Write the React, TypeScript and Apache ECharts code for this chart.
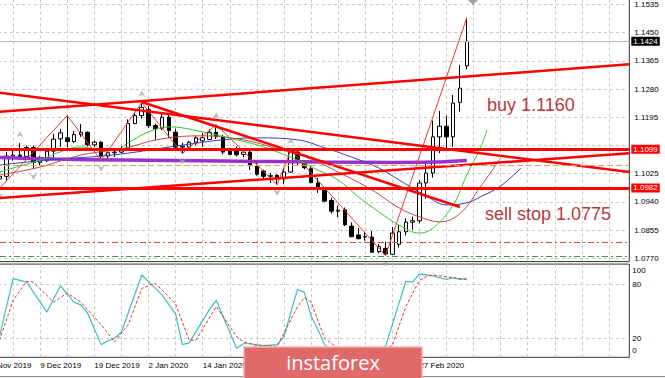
import React, { useEffect, useRef } from 'react';
import * as echarts from 'echarts';

// ---------- data ----------
const dates = [
  '27 Nov 2019', '28 Nov 2019', '29 Nov 2019', '2 Dec 2019', '3 Dec 2019', '4 Dec 2019', '5 Dec 2019', '6 Dec 2019',
  '9 Dec 2019', '10 Dec 2019', '11 Dec 2019', '12 Dec 2019', '13 Dec 2019', '16 Dec 2019', '17 Dec 2019', '18 Dec 2019',
  '19 Dec 2019', '20 Dec 2019', '23 Dec 2019', '24 Dec 2019', '26 Dec 2019', '27 Dec 2019', '30 Dec 2019', '31 Dec 2019',
  '2 Jan 2020', '3 Jan 2020', '6 Jan 2020', '7 Jan 2020', '8 Jan 2020', '9 Jan 2020', '10 Jan 2020', '13 Jan 2020',
  '14 Jan 2020', '15 Jan 2020', '16 Jan 2020', '17 Jan 2020', '20 Jan 2020', '21 Jan 2020', '22 Jan 2020', '23 Jan 2020',
  '24 Jan 2020', '27 Jan 2020', '28 Jan 2020', '29 Jan 2020', '30 Jan 2020', '31 Jan 2020', '3 Feb 2020', '4 Feb 2020',
  '5 Feb 2020', '6 Feb 2020', '7 Feb 2020', '10 Feb 2020', '11 Feb 2020', '12 Feb 2020', '13 Feb 2020', '14 Feb 2020',
  '17 Feb 2020', '18 Feb 2020', '19 Feb 2020', '20 Feb 2020', '21 Feb 2020', '24 Feb 2020', '25 Feb 2020', '26 Feb 2020',
  '27 Feb 2020', '28 Feb 2020', '2 Mar 2020', '3 Mar 2020', '4 Mar 2020', '5 Mar 2020', '6 Mar 2020', '9 Mar 2020',
];
const futureSlots = 24;
// date labels that are visible (the others sit under the watermark)
const dateLabelIndices = [0, 8, 16, 24, 32, 64];

const opens = [
  1.1019, 1.1008, 1.1009, 1.1017, 1.1078, 1.1081, 1.1077, 1.1104,
  1.1059, 1.1064, 1.1093, 1.1130, 1.1133, 1.1122, 1.1143, 1.1150,
  1.1112, 1.1120, 1.1078, 1.1088, 1.1090, 1.1100, 1.1176, 1.1200,
  1.1218, 1.1170, 1.1162, 1.1195, 1.1150, 1.1105, 1.1105, 1.1118,
  1.1124, 1.1128, 1.1150, 1.1136, 1.1097, 1.1093, 1.1083, 1.1090,
  1.1048, 1.1033, 1.1017, 1.1020, 1.1009, 1.1030, 1.1090, 1.1057,
  1.1040, 1.0997, 1.0979, 1.0944, 1.0912, 1.0916, 1.0867, 1.0840,
  1.0834, 1.0834, 1.0790, 1.0800, 1.0782, 1.0812, 1.0850, 1.0879,
  1.0883, 1.0997, 1.1027, 1.1136, 1.1168, 1.1136, 1.1240, 1.1350,
];
const highs = [
  1.1024, 1.1018, 1.1040, 1.1090, 1.1094, 1.1117, 1.1110, 1.1110,
  1.1079, 1.1094, 1.1145, 1.1160, 1.1200, 1.1154, 1.1175, 1.1152,
  1.1124, 1.1123, 1.1090, 1.1095, 1.1108, 1.1189, 1.1209, 1.1239,
  1.1229, 1.1176, 1.1206, 1.1203, 1.1161, 1.1118, 1.1124, 1.1140,
  1.1147, 1.1159, 1.1173, 1.1142, 1.1103, 1.1107, 1.1099, 1.1098,
  1.1064, 1.1037, 1.1027, 1.1023, 1.1039, 1.1096, 1.1096, 1.1065,
  1.1051, 1.1012, 1.0984, 1.0952, 1.0929, 1.0923, 1.0878, 1.0862,
  1.0849, 1.0852, 1.0813, 1.0820, 1.0864, 1.0870, 1.0891, 1.0896,
  1.1006, 1.1054, 1.1185, 1.1214, 1.1200, 1.1262, 1.1353, 1.1495,
];
const lows = [
  1.0993, 1.0999, 1.0981, 1.1004, 1.1064, 1.1070, 1.1075, 1.1040,
  1.1050, 1.1060, 1.1068, 1.1106, 1.1104, 1.1118, 1.1136, 1.1107,
  1.1105, 1.1065, 1.1066, 1.1076, 1.1086, 1.1098, 1.1175, 1.1191,
  1.1163, 1.1127, 1.1156, 1.1133, 1.1094, 1.1086, 1.1095, 1.1110,
  1.1106, 1.1127, 1.1130, 1.1083, 1.1082, 1.1077, 1.1074, 1.1036,
  1.1019, 1.1007, 1.0997, 1.0992, 1.0993, 1.1028, 1.1048, 1.1038,
  1.0996, 1.0967, 1.0942, 1.0905, 1.0894, 1.0867, 1.0834, 1.0827,
  1.0823, 1.0788, 1.0785, 1.0778, 1.0779, 1.0802, 1.0839, 1.0856,
  1.0876, 1.0950, 1.1013, 1.1087, 1.1100, 1.1105, 1.1212, 1.1340,
];
const closes = [
  1.1008, 1.1009, 1.1017, 1.1078, 1.1081, 1.1077, 1.1104, 1.1059,
  1.1064, 1.1093, 1.1129, 1.1148, 1.1122, 1.1143, 1.1150, 1.1112,
  1.1120, 1.1078, 1.1088, 1.1090, 1.1100, 1.1176, 1.1200, 1.1225,
  1.1170, 1.1160, 1.1195, 1.1155, 1.1105, 1.1108, 1.1120, 1.1133,
  1.1133, 1.1150, 1.1136, 1.1090, 1.1083, 1.1082, 1.1090, 1.1052,
  1.1023, 1.1017, 1.1019, 1.1010, 1.1030, 1.1090, 1.1060, 1.1043,
  1.0998, 1.0982, 1.0942, 1.0912, 1.0915, 1.0871, 1.0835, 1.0829,
  1.0835, 1.0788, 1.0806, 1.0783, 1.0846, 1.0850, 1.0879, 1.0883,
  1.0997, 1.1027, 1.1136, 1.1168, 1.1136, 1.1238, 1.1283, 1.1424,
];

// price scale
const priceTicks = [1.0770, 1.0855, 1.0940, 1.1025, 1.1110, 1.1195, 1.1280, 1.1365, 1.1450, 1.1535];
const hiddenPriceLabels = [1.1110];
const priceMin = 1.0760;
const priceMax = 1.1550;
const priceStep = 0.0005;

// horizontal levels
const bidPrice = 1.1424;
const resistanceLevel = 1.1099;
const supportLevel = 1.0982;
const orangeLevel = 1.1050;
const redDashLevel = 1.0818;
const sellStopLevel = 1.0775;

// trend lines [barIndex, price]
const upperRisingLine = [[0, 1.12088], [95, 1.13547]];
const upperFallingLine = [[0, 1.12745], [95, 1.10302]];
const lowerRisingLine = [[0, 1.09488], [95, 1.10865]];
const topFallingSegment = [[23, 1.12412], [70, 1.09247]];

// zigzag vertices
const zigzag = [[2, 1.0981], [12, 1.1200], [17, 1.1065], [23, 1.1239], [29, 1.1086], [34, 1.1173],
  [43, 1.0992], [45, 1.1096], [59, 1.0778], [71, 1.1495]];

// fractals
const fractalUp = [[5, 1.1117], [12, 1.1200], [23, 1.1239], [34, 1.1173], [45, 1.1096]];
const fractalDown = [[2, 1.0981], [7, 1.1040], [17, 1.1065], [29, 1.1086], [43, 1.0992], [59, 1.0778]];

// alligator and long MA
const jaw = [[2, 1.1051], [9, 1.1066], [17, 1.1078], [21, 1.1087], [28, 1.1108], [35, 1.1127], [40, 1.1133],
  [46, 1.1127], [50, 1.1103], [54, 1.1075], [58, 1.1042], [61, 1.1006], [65, 1.0958], [68, 1.0931],
  [71, 1.0937], [73, 1.0955], [76, 1.0988], [79, 1.1042]];
const teeth = [[2, 1.1021], [8, 1.1045], [14, 1.1081], [20, 1.1100], [26, 1.1130], [32, 1.1139], [38, 1.1127],
  [43, 1.1100], [48, 1.1069], [52, 1.1030], [57, 1.0976], [61, 1.0922], [64, 1.0895], [67, 1.0880],
  [70, 1.0905], [73, 1.0985], [76, 1.1072]];
const lips = [[2, 1.1030], [5, 1.1048], [8, 1.1066], [11, 1.1091], [14, 1.1106], [17, 1.1097], [19, 1.1097],
  [21, 1.1118], [24, 1.1151], [27, 1.1166], [29, 1.1163], [32, 1.1151], [34, 1.1142], [37, 1.1127],
  [40, 1.1112], [43, 1.1091], [46, 1.1066], [49, 1.1036], [52, 1.1006], [55, 1.0955], [58, 1.0910],
  [61, 1.0870], [64, 1.0846], [66, 1.0861], [69, 1.0931], [71, 1.1021], [73, 1.1102], [74, 1.1157]];
const longMA = [[2, 1.1074], [10, 1.1069], [20, 1.1066], [35, 1.1063], [50, 1.1060], [60, 1.1059], [66, 1.1060], [71, 1.1065]];

// stochastic
const stochMain = [[2, 22], [4, 86], [6, 82], [9, 49], [11, 78], [13, 60], [14, 57], [15, 48], [17, 13], [18, 17],
  [19, 20], [20, 27], [23, 90], [26, 68], [28, 47], [29, 13], [30, 15], [33, 52], [34, 62], [37, 9], [38, 14],
  [39, 14], [41, 12], [43, 13], [44, 22], [46, 74], [47, 71], [48, 45], [49, 30], [50, 13], [51, 6], [52, 8],
  [53, 4], [54, 3], [55, 5], [56, 7], [57, 4], [58, 8], [59, 11], [62, 83], [63, 82], [64, 91], [65, 90],
  [66, 89], [68, 85], [69, 87], [70, 85], [71, 86]];
const stochSignal = [[2, 18], [4, 62], [6, 83], [7, 82], [10, 60], [11, 65], [12, 70], [14, 60], [17, 35],
  [19, 16], [21, 35], [23, 75], [25, 81], [28, 58], [30, 18], [31, 18], [34, 55], [37, 22], [38, 16], [40, 12],
  [43, 11], [46, 55], [47, 65], [48, 60], [50, 20], [52, 9], [55, 5], [58, 6], [60, 12], [62, 55], [64, 84],
  [65, 88], [66, 90], [68, 88], [69, 87], [71, 85]];
const oscLabels = [0, 20, 80, 100];
const oscLevels = [20, 80];
const oscMin = -1;
const oscMax = 102;

// ---------- styles ----------
const FONT = '"Liberation Sans", Arial, sans-serif';
const labelFont = { fontFamily: FONT, fontSize: 8, color: '#000' };
const gridLine = { color: '#c8c8c8', type: [3, 3] as number[], width: 1 };

function buildOption() {
  const categories = dates.concat(Array.from({ length: futureSlots }, () => ''));
  const candleData = opens.map((o, i) => [o, closes[i], lows[i], highs[i]]);

  const levelLabel = (bg: string, value: number) => ({
    show: true,
    position: 'end',
    distance: 2,
    formatter: value.toFixed(4),
    backgroundColor: bg,
    color: '#fff',
    padding: [1, 2, 0, 2],
    fontFamily: FONT,
    fontSize: 8,
  });

  const priceLine = (data: number[][], color: string, width: number, smooth: number | boolean, z: number) => ({
    type: 'line',
    xAxisIndex: 0,
    yAxisIndex: 0,
    data,
    symbol: 'none',
    smooth,
    silent: true,
    z,
    lineStyle: { color, width },
  });

  const fractalSymbol = 'path://M0,10 L5,0 L10,10 L5,7 Z';

  return {
    animation: false,
    backgroundColor: '#ffffff',
    grid: [
      { left: -14, width: 643.3, top: -0.5, height: 262.1, show: true, borderColor: '#333', borderWidth: 1, containLabel: false, outerBoundsMode: 'none' },
      { left: -14, width: 643.3, top: 264.1, height: 93.2, show: true, borderColor: '#333', borderWidth: 1, containLabel: false, outerBoundsMode: 'none' },
    ],
    xAxis: [
      {
        type: 'category', gridIndex: 0, data: categories, boundaryGap: false,
        axisLine: { show: false }, axisTick: { show: false }, axisLabel: { show: false },
        splitLine: { show: true, interval: 3, lineStyle: gridLine },
      },
      {
        type: 'category', gridIndex: 1, data: categories, boundaryGap: false,
        axisLine: { show: false }, axisTick: { show: false },
        axisLabel: {
          show: true, align: 'left', margin: 4, ...labelFont,
          interval: (i: number) => dateLabelIndices.indexOf(i) >= 0,
        },
        splitLine: { show: true, interval: 3, lineStyle: gridLine },
      },
    ],
    yAxis: [
      {
        type: 'value', gridIndex: 0, position: 'right', min: priceMin, max: priceMax, interval: priceStep,
        axisLine: { show: false }, axisTick: { show: false }, splitLine: { show: false },
        axisLabel: {
          margin: 5, ...labelFont, showMinLabel: true, showMaxLabel: true,
          formatter: (v: number) => {
            const t = priceTicks.find((p) => Math.abs(p - v) < 1e-7);
            if (t === undefined || hiddenPriceLabels.indexOf(t) >= 0) return '';
            return t.toFixed(4);
          },
        },
      },
      {
        type: 'value', gridIndex: 1, position: 'right', min: oscMin, max: oscMax, interval: 1,
        axisLine: { show: false }, axisTick: { show: false }, splitLine: { show: false },
        axisLabel: {
          margin: 3, ...labelFont, showMinLabel: true, showMaxLabel: true,
          formatter: (v: number) => {
            const r = Math.round(v);
            if (Math.abs(v - r) > 1e-6 || oscLabels.indexOf(r) < 0) return '';
            if (r === 100) return '{top|100}';
            if (r === 0) return '{bottom|0}';
            return String(r);
          },
          rich: {
            top: { padding: [9, 0, 0, 0], fontFamily: FONT, fontSize: 8, color: '#000' },
            bottom: { padding: [0, 0, 11, 0], fontFamily: FONT, fontSize: 8, color: '#000' },
          },
        },
      },
    ],
    series: [
      {
        type: 'candlestick', xAxisIndex: 0, yAxisIndex: 0, data: candleData, barWidth: 4, z: 2, silent: true,
        itemStyle: { color: '#ffffff', color0: '#000000', borderColor: '#000000', borderColor0: '#000000', borderWidth: 1 },
        markLine: {
          z: 1, silent: true, precision: 5, symbol: ['none', 'none'], label: { show: false },
          lineStyle: gridLine,
          data: priceTicks.map((p) => ({ yAxis: p })),
        },
      },
      priceLine(longMA, '#9932cc', 3.5, 0.4, 3),
      priceLine(jaw, '#3a3ac8', 1, 0.4, 3),
      priceLine(teeth, '#c04848', 1, 0.4, 3),
      priceLine(lips, '#2ec82e', 1, 0.4, 3),
      {
        ...priceLine(zigzag, '#e03a3a', 1, false, 4),
        markLine: {
          z: 6, silent: true, precision: 5, symbol: ['none', 'none'],
          data: [
            { yAxis: orangeLevel, lineStyle: { color: '#e6a064', width: 1, type: [6, 3] }, label: { show: false } },
            { yAxis: redDashLevel, lineStyle: { color: '#e04040', width: 1, type: [6, 3, 2, 3] }, label: { show: false } },
            { yAxis: sellStopLevel, lineStyle: { color: '#3c9a3c', width: 1, type: [6, 3, 2, 3] }, label: { show: false } },
            { yAxis: bidPrice, lineStyle: { color: '#b8b8b8', width: 1, type: 'solid' }, label: levelLabel('#000000', bidPrice) },
            { yAxis: resistanceLevel, lineStyle: { color: '#ff0000', width: 3, type: 'solid' }, label: levelLabel('#ff0000', resistanceLevel) },
            { yAxis: supportLevel, lineStyle: { color: '#ff0000', width: 3, type: 'solid' }, label: levelLabel('#ff0000', supportLevel) },
          ],
        },
      },
      priceLine(upperRisingLine, '#ff0000', 2.5, false, 5),
      priceLine(upperFallingLine, '#ff0000', 2.5, false, 5),
      priceLine(lowerRisingLine, '#ff0000', 2.5, false, 5),
      priceLine(topFallingSegment, '#ff0000', 2.5, false, 5),
      {
        type: 'scatter', xAxisIndex: 0, yAxisIndex: 0, data: fractalUp, symbol: fractalSymbol,
        symbolSize: [7, 6], symbolOffset: [0, -9], silent: true, z: 4,
        itemStyle: { color: '#a8a8a8' },
      },
      {
        type: 'scatter', xAxisIndex: 0, yAxisIndex: 0, data: fractalDown, symbol: fractalSymbol,
        symbolSize: [7, 6], symbolRotate: 180, symbolOffset: [0, 8], silent: true, z: 4,
        itemStyle: { color: '#a8a8a8' },
      },
      {
        type: 'line', xAxisIndex: 1, yAxisIndex: 1, data: stochMain, symbol: 'none', silent: true, z: 3,
        lineStyle: { color: '#40bcbc', width: 1.2 },
        markLine: {
          z: 1, silent: true, symbol: ['none', 'none'], label: { show: false }, lineStyle: gridLine,
          data: oscLevels.map((v) => ({ yAxis: v })),
        },
      },
      {
        type: 'line', xAxisIndex: 1, yAxisIndex: 1, data: stochSignal, symbol: 'none', silent: true, z: 3,
        lineStyle: { color: '#e03030', width: 1, type: [3, 2] },
      },
    ],
    graphic: [
      {
        type: 'text', x: 487, y: 105, z: 20, silent: true,
        style: { text: 'buy 1.1160', fill: '#b3393a', font: `18px ${FONT}`, textVerticalAlign: 'middle', verticalAlign: 'middle' },
      },
      {
        type: 'text', x: 485, y: 214, z: 20, silent: true,
        style: { text: 'sell stop 1.0775', fill: '#b3393a', font: `18px ${FONT}`, textVerticalAlign: 'middle', verticalAlign: 'middle' },
      },
      {
        type: 'polygon', z: 20, silent: true,
        shape: { points: [[468, 0], [478, 0], [473, 5]] },
        style: { fill: '#a0a0a0' },
      },
      {
        type: 'line', z: 20, silent: true,
        shape: { x1: 0, y1: 376.5, x2: 665, y2: 376.5 },
        style: { stroke: '#888888', lineWidth: 1 },
      },
      {
        type: 'group', z: 100, silent: true,
        children: [
          {
            type: 'rect', z: 100,
            shape: { x: 244, y: 347, width: 178, height: 34 },
            style: { fill: '#e06a6a', stroke: '#f0b0b0', lineWidth: 1.5 },
          },
          {
            type: 'text', z: 101, x: 333, y: 362,
            style: {
              text: 'instaforex', fill: '#ffffff', font: '20px "Open Sans", "Noto Sans", sans-serif',
              align: 'center', verticalAlign: 'middle', textAlign: 'center', textVerticalAlign: 'middle',
            },
          },
        ],
      },
    ],
  };
}

export default function App() {
  const ref = useRef<HTMLDivElement>(null);
  useEffect(() => {
    if (!ref.current) return;
    const chart = echarts.init(ref.current, null, { renderer: 'svg' });
    chart.setOption(buildOption() as any);
    return () => {
      chart.dispose();
    };
  }, []);
  return (
    <div
      ref={ref}
      style={{ position: 'absolute', left: 0, top: 0, width: 665, height: 378, background: '#fff' }}
    />
  );
}
